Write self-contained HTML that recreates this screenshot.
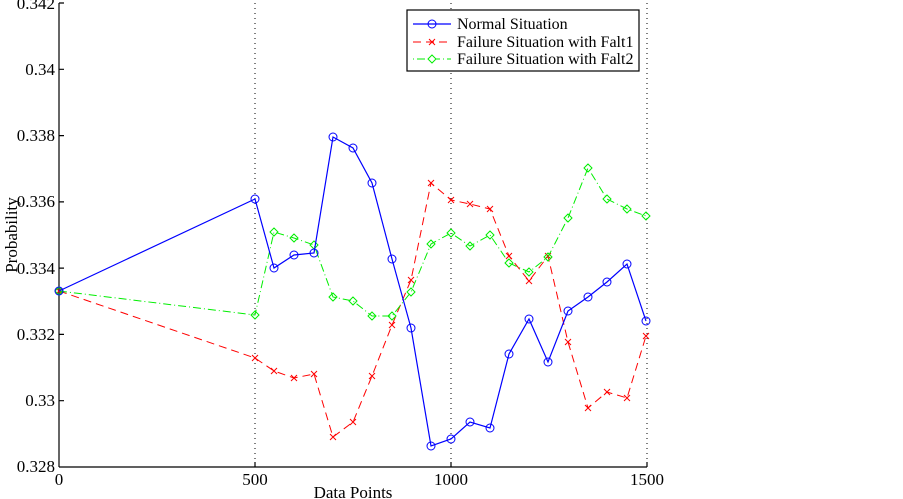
<!DOCTYPE html>
<html><head><style>body{margin:0;background:#fff}svg{display:block}text{font-family:"Liberation Serif",serif;font-size:17px;fill:#000}text.lg{font-size:16px}</style></head><body>
<svg width="903" height="499" viewBox="0 0 903 499">
<g stroke="#000" stroke-width="1" stroke-dasharray="1,4">
<line x1="255" y1="3" x2="255" y2="467"/><line x1="451" y1="3" x2="451" y2="467"/><line x1="647" y1="3" x2="647" y2="467"/>
</g>
<g stroke="#000" stroke-width="1.2" fill="none">
<line x1="59" y1="3" x2="59" y2="467"/><line x1="59" y1="467" x2="647" y2="467"/>
<path d="M59,3h5M59,69.3h5M59,135.6h5M59,201.9h5M59,268.1h5M59,334.4h5M59,400.7h5M255,467v-5M451,467v-5M647,467v-5"/>
</g>
<g text-anchor="end">
<text x="55" y="9">0.342</text><text x="55" y="75">0.34</text><text x="55" y="141">0.338</text><text x="55" y="207">0.336</text><text x="55" y="274">0.334</text><text x="55" y="340">0.332</text><text x="55" y="406">0.33</text><text x="55" y="472">0.328</text>
</g>
<g text-anchor="middle">
<text x="59" y="485">0</text><text x="255" y="485">500</text><text x="451" y="485">1000</text><text x="647" y="485">1500</text>
<text x="353" y="498">Data Points</text>
<text transform="translate(17,235) rotate(-90)">Probability</text>
</g>
<polyline fill="none" stroke="#ff0000" stroke-width="1" stroke-dasharray="8,5" points="59,291 255,358 274,371 294,378 314,374 333,437 353,422 372,376 392,325 411,280 431,183 451,200 470,204 490,209 509,256 529,281 548,256 568,342 588,408 607,392 627,398 646,336"/>
<g stroke="#ff0000" stroke-width="1"><path d="M56,288l6,6m0,-6l-6,6M252,355l6,6m0,-6l-6,6M271,368l6,6m0,-6l-6,6M291,375l6,6m0,-6l-6,6M311,371l6,6m0,-6l-6,6M330,434l6,6m0,-6l-6,6M350,419l6,6m0,-6l-6,6M369,373l6,6m0,-6l-6,6M389,322l6,6m0,-6l-6,6M408,277l6,6m0,-6l-6,6M428,180l6,6m0,-6l-6,6M448,197l6,6m0,-6l-6,6M467,201l6,6m0,-6l-6,6M487,206l6,6m0,-6l-6,6M506,253l6,6m0,-6l-6,6M526,278l6,6m0,-6l-6,6M545,253l6,6m0,-6l-6,6M565,339l6,6m0,-6l-6,6M585,405l6,6m0,-6l-6,6M604,389l6,6m0,-6l-6,6M624,395l6,6m0,-6l-6,6M643,333l6,6m0,-6l-6,6"/></g>
<polyline fill="none" stroke="#00ee00" stroke-width="1" stroke-dasharray="8,3,1,3" points="59,291 255,315 274,232 294,238 314,245 333,297 353,301 372,316 392,316 411,292 431,244 451,233 470,246 490,235 509,263 529,272 548,257 568,218 588,168 607,199 627,209 646,216"/>
<g fill="none" stroke="#00ee00" stroke-width="1">
<path d="M59,287l4,4l-4,4l-4,-4zM255,311l4,4l-4,4l-4,-4zM274,228l4,4l-4,4l-4,-4zM294,234l4,4l-4,4l-4,-4zM314,241l4,4l-4,4l-4,-4zM333,293l4,4l-4,4l-4,-4zM353,297l4,4l-4,4l-4,-4zM372,312l4,4l-4,4l-4,-4zM392,312l4,4l-4,4l-4,-4zM411,288l4,4l-4,4l-4,-4zM431,240l4,4l-4,4l-4,-4zM451,229l4,4l-4,4l-4,-4zM470,242l4,4l-4,4l-4,-4zM490,231l4,4l-4,4l-4,-4zM509,259l4,4l-4,4l-4,-4zM529,268l4,4l-4,4l-4,-4zM548,253l4,4l-4,4l-4,-4zM568,214l4,4l-4,4l-4,-4zM588,164l4,4l-4,4l-4,-4zM607,195l4,4l-4,4l-4,-4zM627,205l4,4l-4,4l-4,-4zM646,212l4,4l-4,4l-4,-4z"/></g>
<polyline fill="none" stroke="#0000ff" stroke-width="1.2" points="59,291 255,199 274,268 294,255 314,253 333,137 353,148 372,183 392,259 411,328 431,446 451,439 470,422 490,428 509,354 529,319 548,362 568,311 588,297 607,282 627,264 646,321"/>
<g fill="none" stroke="#0000ff" stroke-width="1">
<circle cx="59" cy="291" r="4"/><circle cx="255" cy="199" r="4"/><circle cx="274" cy="268" r="4"/><circle cx="294" cy="255" r="4"/><circle cx="314" cy="253" r="4"/><circle cx="333" cy="137" r="4"/><circle cx="353" cy="148" r="4"/><circle cx="372" cy="183" r="4"/><circle cx="392" cy="259" r="4"/><circle cx="411" cy="328" r="4"/><circle cx="431" cy="446" r="4"/><circle cx="451" cy="439" r="4"/><circle cx="470" cy="422" r="4"/><circle cx="490" cy="428" r="4"/><circle cx="509" cy="354" r="4"/><circle cx="529" cy="319" r="4"/><circle cx="548" cy="362" r="4"/><circle cx="568" cy="311" r="4"/><circle cx="588" cy="297" r="4"/><circle cx="607" cy="282" r="4"/><circle cx="627" cy="264" r="4"/><circle cx="646" cy="321" r="4"/>
</g>
<rect x="407" y="10" width="232" height="61" fill="#fff" stroke="#000" stroke-width="1.2"/>
<line x1="413" y1="24" x2="451" y2="24" stroke="#0000ff" stroke-width="1.2"/><circle cx="432" cy="24" r="4" fill="none" stroke="#0000ff"/>
<line x1="413" y1="42" x2="451" y2="42" stroke="#ff0000" stroke-dasharray="8,5"/><path d="M429,39l6,6m0,-6l-6,6" stroke="#ff0000"/>
<line x1="413" y1="59" x2="451" y2="59" stroke="#00ee00" stroke-dasharray="1,3,8,3"/><path d="M432,55l4,4l-4,4l-4,-4z" fill="#fff" stroke="#00ee00"/>
<text class="lg" x="457" y="29">Normal Situation</text><text class="lg" x="457" y="47">Failure Situation with Falt1</text><text class="lg" x="457" y="64">Failure Situation with Falt2</text>
</svg>
</body></html>
